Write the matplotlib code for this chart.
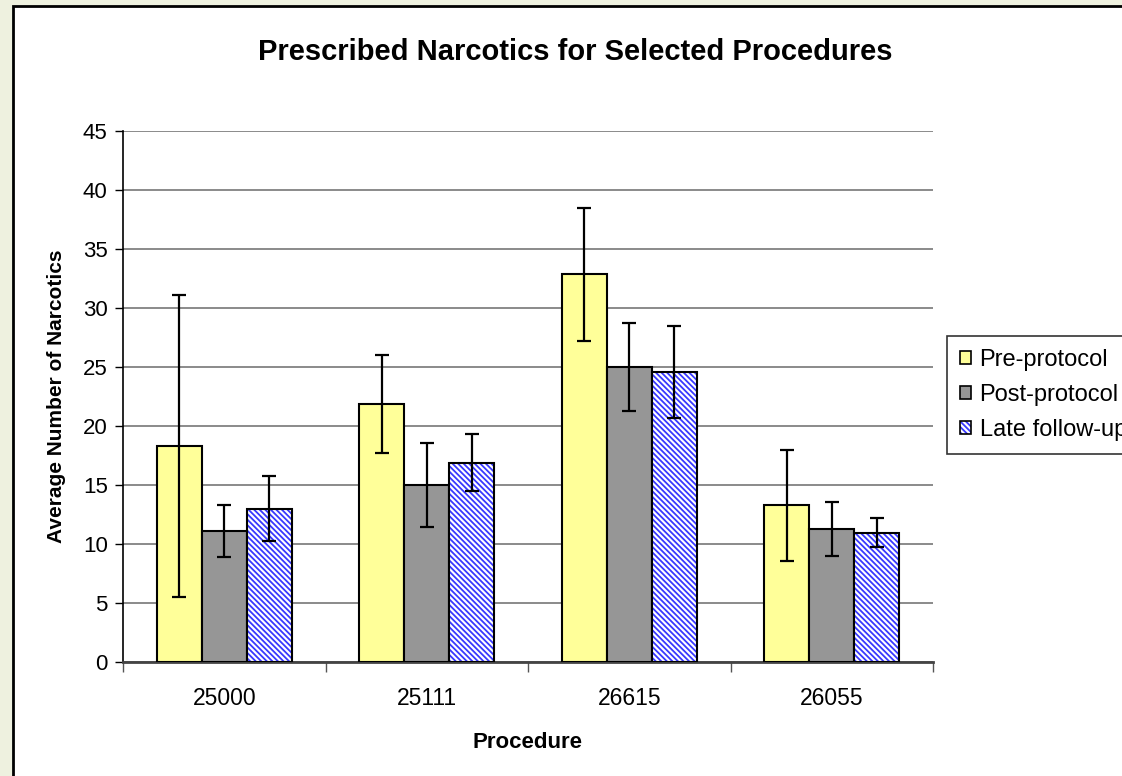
import matplotlib.pyplot as plt
import numpy as np
from matplotlib.patches import Rectangle

plt.rcParams['font.family'] = ['Liberation Sans', 'DejaVu Sans']
plt.rcParams['hatch.linewidth'] = 1.3

procedures = ['25000', '25111', '26615', '26055']
series = ['Pre-protocol', 'Post-protocol', 'Late follow-up']
pre = [18.3, 21.9, 32.85, 13.3]
pre_err = [12.8, 4.15, 5.65, 4.7]
post = [11.1, 15.0, 25.0, 11.27]
post_err = [2.2, 3.6, 3.75, 2.27]
late = [13.0, 16.9, 24.6, 10.96]
late_err = [2.75, 2.45, 3.9, 1.25]

W, H = 1122, 776
fig = plt.figure(figsize=(W / 100, H / 100), dpi=100, facecolor='#eef1df')

# white chart area with black border, running off the right and bottom
fig.patches.append(Rectangle((12.5 / W, -0.1), 1.2, 1 - 6.5 / H + 0.1,
                             transform=fig.transFigure, facecolor='white',
                             edgecolor='black', linewidth=2, zorder=0))

ax = fig.add_axes([123 / W, 1 - 662 / H, (933 - 123) / W, (662 - 131) / H])
ax.set_zorder(2)
ax.set_facecolor('none')

x = np.arange(len(procedures))
bw = 1 / 4.5
hatch = '\\' * 6
ekw = dict(ecolor='black', elinewidth=1.6, capsize=4.8, capthick=1.6, fmt='none', zorder=4)

ax.bar(x - bw, pre, bw, color='#ffff99', edgecolor='black', linewidth=1.5, zorder=3)
ax.errorbar(x - bw, pre, yerr=pre_err, **ekw)

ax.bar(x, post, bw, color='#969696', edgecolor='black', linewidth=1.5, zorder=3)
ax.errorbar(x, post, yerr=post_err, **ekw)

ax.bar(x + bw, late, bw, color='white', edgecolor='#3838ff', hatch=hatch,
       linewidth=0, zorder=3)
ax.bar(x + bw, late, bw, fill=False, edgecolor='black', linewidth=1.5, zorder=3)
ax.errorbar(x + bw, late, yerr=late_err, **ekw)

ax.set_ylim(0, 45)
ax.set_xlim(-0.5, 3.5)
ax.set_yticks(range(0, 46, 5))
ax.set_xticks(x)
ax.set_xticklabels(procedures)
ax.set_xticks(np.arange(-0.5, 4, 1), minor=True)
ax.tick_params(axis='x', which='major', length=0, pad=18, labelsize=16.5)
ax.tick_params(axis='x', which='minor', length=7, width=1, color='#555555')
ax.tick_params(axis='y', length=6, width=1, labelsize=16, pad=5)
ax.yaxis.grid(True, color='#777777', linewidth=1.2, zorder=1)
ax.set_axisbelow(True)

for side in ['top', 'right']:
    ax.spines[side].set_visible(False)
ax.spines['left'].set_linewidth(1.2)
ax.spines['bottom'].set_color('#444444')
ax.spines['bottom'].set_linewidth(2)

ax.set_ylabel('Average Number of Narcotics', fontsize=15, fontweight='bold', labelpad=12)
ax.set_xlabel('Procedure', fontsize=16, fontweight='bold', labelpad=16)
fig.text(575 / W, 1 - 52 / H, 'Prescribed Narcotics for Selected Procedures',
         ha='center', va='center', fontsize=21, fontweight='bold')

# legend handles
h_pre = Rectangle((0, 0), 1, 1, facecolor='#ffff99', edgecolor='black', linewidth=1.2)
h_post = Rectangle((0, 0), 1, 1, facecolor='#969696', edgecolor='black', linewidth=1.2)
h_late_fill = Rectangle((0, 0), 1, 1, facecolor='white', edgecolor='#3838ff',
                        hatch=hatch, linewidth=0)
h_late_edge = Rectangle((0, 0), 1, 1, fill=False, edgecolor='black', linewidth=1.2)
leg = fig.legend([h_pre, h_post, (h_late_fill, h_late_edge)], series, loc='upper left',
                 bbox_to_anchor=(947 / W, 1 - 336 / H), fontsize=17,
                 frameon=True, fancybox=False, edgecolor='black',
                 handlelength=0.48, handleheight=0.48, handletextpad=0.35,
                 labelspacing=0.55, borderpad=0.55, borderaxespad=0)
leg.get_frame().set_linewidth(1.2)

fig.savefig('out.png', dpi=100, facecolor=fig.get_facecolor())
